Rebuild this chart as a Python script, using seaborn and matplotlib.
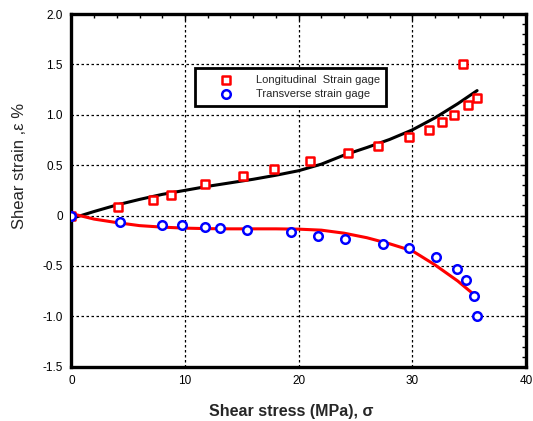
import numpy as np
import pandas as pd
import seaborn as sns
import matplotlib
matplotlib.use("Agg")
import matplotlib.pyplot as plt
from matplotlib.ticker import MultipleLocator, FuncFormatter

# Longitudinal strain gage (measured)
long_x = [0, 4.1, 7.2, 8.8, 11.8, 15.1, 17.8, 21.0, 24.3, 27.0, 29.7, 31.5, 32.6, 33.7, 34.5, 34.9, 35.7]
long_y = [0, 0.08, 0.15, 0.20, 0.31, 0.39, 0.46, 0.54, 0.62, 0.69, 0.78, 0.85, 0.93, 1.00, 1.50, 1.10, 1.17]

# Transverse strain gage (measured)
trans_x = [0, 4.3, 8.0, 9.7, 11.8, 13.1, 15.5, 19.3, 21.7, 24.1, 27.4, 29.7, 32.1, 33.9, 34.7, 35.4, 35.7]
trans_y = [0, -0.06, -0.09, -0.09, -0.11, -0.12, -0.14, -0.16, -0.20, -0.23, -0.28, -0.32, -0.41, -0.53, -0.64, -0.80, -1.00]

# Fitted curves
fit_x = [0, 2, 4, 6, 8, 10, 12, 14, 16, 18, 20, 22, 24, 26, 28, 30, 32, 34, 35.7]
fit_long = [-0.03, 0.04, 0.105, 0.16, 0.21, 0.25, 0.29, 0.325, 0.36, 0.40, 0.445, 0.51, 0.60, 0.675, 0.755, 0.85, 0.97, 1.11, 1.24]
fit_trans = [0.02, -0.035, -0.07, -0.10, -0.115, -0.125, -0.13, -0.132, -0.132, -0.132, -0.135, -0.145, -0.175, -0.22, -0.28, -0.35, -0.49, -0.65, -0.81]

sns.set_style("white")
plt.rcParams['font.family'] = ['Liberation Sans', 'DejaVu Sans']

fig = plt.figure(figsize=(5.33, 4.21), dpi=100)
ax = fig.add_axes([0.1338, 0.129, 0.8530, 0.8377])

fit_df = pd.DataFrame({"x": fit_x, "long": fit_long, "trans": fit_trans})
sns.lineplot(data=fit_df, x="x", y="long", ax=ax, color="black", linewidth=2.2, sort=False, zorder=3)
sns.lineplot(data=fit_df, x="x", y="trans", ax=ax, color="red", linewidth=2.2, sort=False, zorder=3)

ldf = pd.DataFrame({"x": long_x, "y": long_y})
tdf = pd.DataFrame({"x": trans_x, "y": trans_y})
sns.scatterplot(data=ldf, x="x", y="y", ax=ax, marker="s", s=38, facecolor="white",
                edgecolor="red", linewidth=1.8, zorder=4, label="Longitudinal  Strain gage")
sns.scatterplot(data=tdf, x="x", y="y", ax=ax, marker="o", s=38, facecolor="white",
                edgecolor="blue", linewidth=1.8, zorder=4, label="Transverse strain gage")

ax.set_xlim(0, 40)
ax.set_ylim(-1.5, 2.0)
ax.xaxis.set_major_locator(MultipleLocator(10))
ax.xaxis.set_minor_locator(MultipleLocator(2))
ax.yaxis.set_major_locator(MultipleLocator(0.5))
ax.yaxis.set_minor_locator(MultipleLocator(0.1))
ax.yaxis.set_major_formatter(FuncFormatter(lambda v, p: "0" if abs(v) < 1e-9 else f"{v:.1f}"))
ax.xaxis.set_major_formatter(FuncFormatter(lambda v, p: f"{v:.0f}"))

ax.grid(True, which="major", color="black", linestyle=(0, (2, 2)), linewidth=0.9)
ax.tick_params(which="both", direction="in", top=True, right=True, colors="black",
               labelsize=8.5, pad=6)
ax.tick_params(which="major", length=4, width=1)
ax.tick_params(which="minor", length=3, width=1)
for sp in ax.spines.values():
    sp.set_linewidth(2.4)
    sp.set_color("black")

ax.set_xlabel("Shear stress (MPa), σ", fontsize=11.5, fontweight="bold")
ax.xaxis.set_label_coords(0.483, -0.105)
ax.set_ylabel("Shear strain ,ε %", fontsize=12)
ax.yaxis.set_label_coords(-0.097, 0.57)

leg = ax.legend(loc="upper left", bbox_to_anchor=(0.271, 0.847), frameon=True, fancybox=False,
                fontsize=8, handletextpad=0.4, borderpad=0.6, labelspacing=0.4,
                borderaxespad=0, handlelength=4.5)
leg.get_frame().set_edgecolor("black")
leg.get_frame().set_linewidth(2)
leg.get_frame().set_alpha(1)

fig.savefig("out.png", dpi=100)
